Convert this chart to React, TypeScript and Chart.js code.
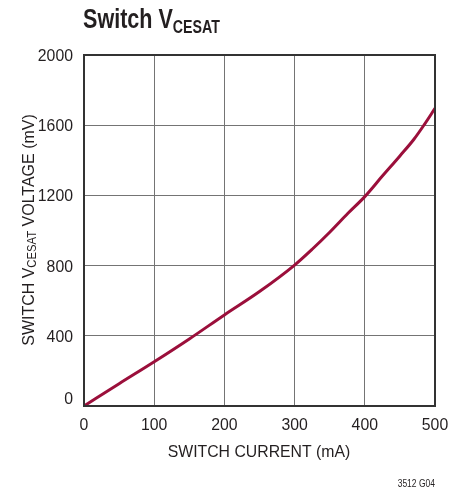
import React, { useEffect, useRef } from "react";
import { Chart, registerables } from "chart.js";

Chart.register(...registerables);

const currentMA = [0, 50, 100, 150, 200, 250, 300, 325, 350, 376, 400, 425, 450, 470, 485, 500];
const vcesatMV = [0, 127, 252, 382, 519, 652, 803, 893, 990, 1098, 1193, 1310, 1425, 1520, 1605, 1696];
const xTicks = [0, 100, 200, 300, 400, 500];
const yTicks = [0, 400, 800, 1200, 1600, 2000];

const FONT = '"Liberation Sans", Arial, sans-serif';
const TEXT = "#231f20";

function drawText(
  ctx: CanvasRenderingContext2D,
  text: string,
  x: number,
  y: number,
  font: string,
  sx: number,
  align: "left" | "center" | "right"
): number {
  ctx.save();
  ctx.font = font;
  ctx.textAlign = "left";
  ctx.textBaseline = "alphabetic";
  const w = ctx.measureText(text).width * sx;
  let x0 = x;
  if (align === "center") x0 = x - w / 2;
  if (align === "right") x0 = x - w;
  ctx.translate(x0, y);
  ctx.scale(sx, 1);
  ctx.fillText(text, 0, 0);
  ctx.restore();
  return w;
}

const textPlugin = {
  id: "texts",
  afterDraw(chart: any) {
    const ctx = chart.ctx as CanvasRenderingContext2D;
    const xs = chart.scales.x;
    const ys = chart.scales.y;
    const area = chart.chartArea;
    ctx.save();
    ctx.fillStyle = TEXT;

    // Title
    const w1 = drawText(ctx, "Switch V", 83, 28, `bold 28px ${FONT}`, 0.77, "left");
    drawText(ctx, "CESAT", 83 + w1, 33, `bold 18px ${FONT}`, 0.79, "left");

    // X ticks
    xTicks.forEach((v) => {
      drawText(ctx, String(v), xs.getPixelForValue(v), area.bottom + 24, `17px ${FONT}`, 0.93, "center");
    });
    // Y ticks
    yTicks.forEach((v) => {
      const y = ys.getPixelForValue(v) + 6 - (v === 0 ? 8 : 0);
      drawText(ctx, String(v), area.left - 11, y, `17px ${FONT}`, 0.93, "right");
    });

    // X title
    drawText(ctx, "SWITCH CURRENT (mA)", 259, 457, `17px ${FONT}`, 0.93, "center");

    // Y title
    ctx.save();
    ctx.translate(34, 230);
    ctx.rotate(-Math.PI / 2);
    const sx = 0.94;
    ctx.font = `17px ${FONT}`;
    const wa = ctx.measureText("SWITCH V").width * sx;
    const wc = ctx.measureText(" VOLTAGE (mV)").width * sx;
    ctx.font = `12px ${FONT}`;
    const wb = ctx.measureText("CESAT").width * sx;
    let x = -(wa + wb + wc) / 2;
    drawText(ctx, "SWITCH V", x, 0, `17px ${FONT}`, sx, "left");
    x += wa;
    drawText(ctx, "CESAT", x, 2, `12px ${FONT}`, sx, "left");
    x += wb;
    drawText(ctx, " VOLTAGE (mV)", x, 0, `17px ${FONT}`, sx, "left");
    ctx.restore();

    // Figure code
    drawText(ctx, "3512 G04", 435, 487, `10px ${FONT}`, 0.85, "right");
    ctx.restore();
  },
};

export default function App() {
  const ref = useRef<HTMLCanvasElement>(null);
  useEffect(() => {
    document.body.style.margin = "0";
    const chart = new Chart(ref.current!, {
      type: "scatter",
      data: {
        datasets: [
          {
            data: currentMA.map((x, i) => ({ x, y: vcesatMV[i] })),
            showLine: true,
            borderColor: "#9b0f3b",
            borderWidth: 3,
            pointRadius: 0,
            cubicInterpolationMode: "monotone",
          },
        ],
      },
      options: {
        animation: false,
        responsive: false,
        maintainAspectRatio: false,
        layout: { padding: { left: 0, right: 15, top: 55, bottom: 12 } },
        plugins: { legend: { display: false }, tooltip: { enabled: false } },
        scales: {
          x: {
            type: "linear",
            min: 0,
            max: 500,
            afterBuildTicks: (s: any) => {
              s.ticks = xTicks.map((v) => ({ value: v }));
            },
            afterFit: (s: any) => {
              s.height = 70;
            },
            grid: { color: "#747474", lineWidth: 1, drawTicks: false },
            border: { color: "#333333", width: 2 },
            ticks: { display: false },
          },
          y: {
            type: "linear",
            min: 0,
            max: 2000,
            afterBuildTicks: (s: any) => {
              s.ticks = yTicks.map((v) => ({ value: v }));
            },
            afterFit: (s: any) => {
              s.width = 84;
            },
            grid: { color: "#747474", lineWidth: 1, drawTicks: false },
            border: { color: "#333333", width: 2 },
            ticks: { display: false },
          },
        },
      },
      plugins: [
        textPlugin,
        {
          id: "frame",
          afterDatasetsDraw(chart: any) {
            const { ctx, chartArea } = chart;
            ctx.save();
            ctx.strokeStyle = "#333333";
            ctx.lineWidth = 2;
            ctx.strokeRect(chartArea.left, chartArea.top, chartArea.right - chartArea.left, chartArea.bottom - chartArea.top);
            ctx.restore();
          },
        },
      ],
    } as any);
    return () => chart.destroy();
  }, []);
  return <canvas ref={ref} width={450} height={488} style={{ display: "block", width: 450, height: 488 }} />;
}
